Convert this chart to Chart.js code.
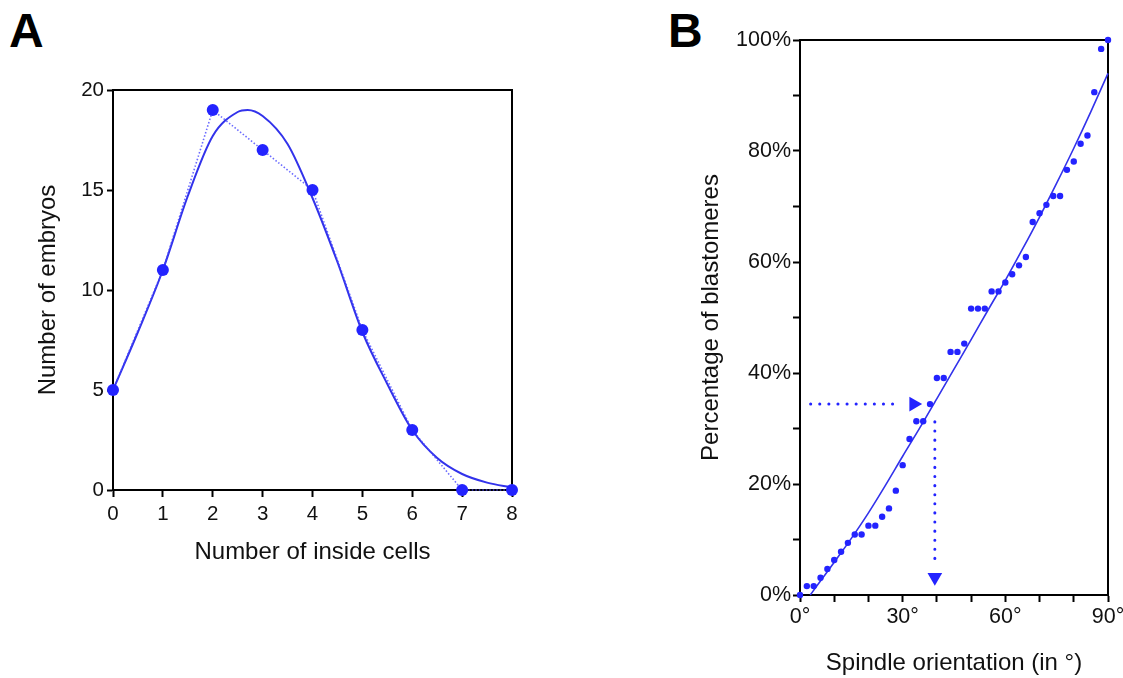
<!DOCTYPE html>
<html>
<head>
<meta charset="utf-8">
<script src="https://cdn.jsdelivr.net/npm/chart.js@4.4.1/dist/chart.umd.min.js"></script>
<style>
  body { margin: 0; background: #fff; width: 1123px; height: 678px; overflow: hidden; position: relative; font-family: 'Liberation Sans', Arial, sans-serif; }
  canvas { position: absolute; }
  .panel { position: absolute; font-weight: bold; font-size: 48px; line-height: 48px; color: #000; }
</style>
</head>
<body>
<div class="panel" style="left:9px; top:7px;">A</div>
<div class="panel" style="left:668px; top:7px;">B</div>
<canvas id="chartA" width="560" height="600" style="left:0; top:0;"></canvas>
<canvas id="chartB" width="460" height="678" style="left:680px; top:0;"></canvas>
<script>
// panel A: inside cells per embryo
var cellCounts = [0, 1, 2, 3, 4, 5, 6, 7, 8];
var embryoCounts = [5, 11, 19, 17, 15, 8, 3, 0, 0];
// fitted curve
var fitAx = [0, 0.5, 1, 1.5, 2, 2.5, 2.7, 3, 3.5, 4, 4.5, 5, 5.5, 6, 6.5, 7, 7.5, 8];
var fitAy = [5.0, 7.9, 11.0, 14.7, 17.7, 18.9, 19.0, 18.7, 17.3, 14.6, 11.4, 7.9, 5.3, 3.0, 1.6, 0.8, 0.37, 0.13];

// panel B: cumulative spindle orientation
var spindleAngles = [0, 2, 4, 6, 8, 10, 12, 14, 16, 18, 20, 22, 24, 26, 28, 30, 32, 34, 36, 38, 40, 42, 44,
    46, 48, 50, 52, 54, 56, 58, 60, 62, 64, 66, 68, 70, 72, 74, 76, 78, 80, 82, 84, 86, 88, 90];
var blastomerePct = [0, 1.6, 1.6, 3.1, 4.7, 6.3, 7.8, 9.4, 10.9, 10.9, 12.5, 12.5, 14.1, 15.6, 18.8, 23.4, 28.1,
    31.3, 31.3, 34.4, 39.1, 39.1, 43.8, 43.8, 45.3, 51.6, 51.6, 51.6, 54.7, 54.7, 56.3, 57.8, 59.4, 60.9,
    67.2, 68.8, 70.3, 71.9, 71.9, 76.6, 78.1, 81.3, 82.8, 90.6, 98.4, 100];
var fitBx = [3, 5, 10, 15, 20, 25, 30, 35, 40, 45, 50, 55, 60, 65, 70, 75, 80, 85, 90];
var fitBy = [0, 1.7, 5.9, 10.2, 14.8, 19.8, 25.0, 30.1, 35.4, 40.7, 46.0, 51.4, 56.7, 62.3, 68.1, 74.2, 80.5, 87.1, 94.0];
// dotted arrows (median)
var arrowHx = [3.1, 29.6];
var arrowHy = [34.4, 34.4];
var arrowVx = [39.4, 39.4];
var arrowVy = [31.2, 5.1];
var arrowHeadH = [33.2, 34.4];
var arrowHeadV = [39.4, 3.2];

var blue = 'rgb(35,35,255)';
var lineBlue = 'rgb(50,50,235)';
var textColor = '#111';

Chart.defaults.font.family = "'Liberation Sans', Arial, sans-serif";
Chart.defaults.color = textColor;

function toPoints(xs, ys) {
    return xs.map(function (x, i) { return { x: x, y: ys[i] }; });
}

function frameAxis(pos) {
    return {
        type: 'linear', position: pos, min: 0, max: 1,
        ticks: { display: false },
        grid: { drawOnChartArea: false, drawTicks: false },
        border: { display: true, color: '#000', width: 2 },
        afterFit: function (s) {
            if (pos === 'top') s.height = 0; else s.width = 0;
        }
    };
}

function tickGrid(len) {
    return { drawOnChartArea: false, tickLength: len, tickWidth: 2, tickColor: '#000' };
}

var commonOpts = {
    responsive: false,
    animation: false,
    events: [],
    plugins: { legend: { display: false }, tooltip: { enabled: false } }
};

// chart A
new Chart(document.getElementById('chartA').getContext('2d'), {
    type: 'scatter',
    data: {
        datasets: [{
            data: toPoints(cellCounts, embryoCounts),
            showLine: true,
            borderColor: 'rgba(70,70,255,0.8)',
            borderWidth: 1.6,
            borderDash: [1.5, 2],
            pointRadius: 6,
            pointBackgroundColor: blue,
            pointBorderWidth: 0,
            clip: false
        }, {
            data: toPoints(fitAx, fitAy),
            showLine: true,
            borderColor: lineBlue,
            borderWidth: 2,
            cubicInterpolationMode: 'monotone',
            pointRadius: 0,
            clip: false
        }]
    },
    options: Object.assign({}, commonOpts, {
        layout: { padding: { top: 90, right: 48, left: 0, bottom: 0 } },
        scales: {
            x: {
                type: 'linear', min: 0, max: 8,
                ticks: { stepSize: 1, autoSkip: false, maxRotation: 0, padding: 5, font: { size: 20.5 } },
                grid: tickGrid(7),
                border: { color: '#000', width: 2 },
                title: { display: true, text: 'Number of inside cells', font: { size: 24 }, padding: { top: 0, bottom: 33.6 } },
                afterFit: function (s) { s.height = 110; }
            },
            y: {
                type: 'linear', min: 0, max: 20,
                ticks: { stepSize: 5, padding: 3, font: { size: 20.5 } },
                grid: tickGrid(6),
                border: { color: '#000', width: 2 },
                title: { display: true, text: 'Number of embryos', font: { size: 24 }, padding: { top: 33.6, bottom: 0 } },
                afterFit: function (s) { s.width = 113; }
            },
            x2: frameAxis('top'),
            y2: frameAxis('right')
        }
    })
});

// chart B
new Chart(document.getElementById('chartB').getContext('2d'), {
    type: 'scatter',
    data: {
        datasets: [{
            data: toPoints(spindleAngles, blastomerePct),
            pointRadius: 3.2,
            pointBackgroundColor: blue,
            pointBorderWidth: 0,
            clip: false
        }, {
            data: toPoints(fitBx, fitBy),
            showLine: true,
            borderColor: lineBlue,
            borderWidth: 1.6,
            cubicInterpolationMode: 'monotone',
            pointRadius: 0,
            clip: false
        }, {
            data: toPoints(arrowHx, arrowHy),
            showLine: true,
            borderColor: blue,
            borderWidth: 3,
            borderDash: [0.1, 9],
            borderCapStyle: 'round',
            pointRadius: 0
        }, {
            data: toPoints(arrowVx, arrowVy),
            showLine: true,
            borderColor: blue,
            borderWidth: 3,
            borderDash: [0.1, 9],
            borderCapStyle: 'round',
            pointRadius: 0
        }, {
            data: [{ x: arrowHeadH[0], y: arrowHeadH[1] }],
            pointStyle: 'triangle',
            rotation: 90,
            pointRadius: 8.5,
            pointBackgroundColor: blue,
            pointBorderWidth: 0
        }, {
            data: [{ x: arrowHeadV[0], y: arrowHeadV[1] }],
            pointStyle: 'triangle',
            rotation: 180,
            pointRadius: 8.5,
            pointBackgroundColor: blue,
            pointBorderWidth: 0
        }]
    },
    options: Object.assign({}, commonOpts, {
        layout: { padding: { top: 40, right: 32, left: 0, bottom: 0 } },
        scales: {
            x: {
                type: 'linear', min: 0, max: 90,
                ticks: {
                    stepSize: 10, autoSkip: false, maxRotation: 0, padding: 2, font: { size: 21.5 },
                    callback: function (v) { return v % 30 === 0 ? v + '°' : ''; }
                },
                grid: tickGrid(7),
                border: { color: '#000', width: 2 },
                title: { display: true, text: 'Spindle orientation (in °)', font: { size: 24 }, padding: { top: 0, bottom: 0 } },
                afterFit: function (s) { s.height = 83; }
            },
            y: {
                type: 'linear', min: 0, max: 100,
                ticks: {
                    stepSize: 10, padding: 2, font: { size: 21.5 },
                    callback: function (v) { return v % 20 === 0 ? v + '%' : ''; }
                },
                grid: tickGrid(7),
                border: { color: '#000', width: 2 },
                title: { display: true, text: 'Percentage of blastomeres', font: { size: 24 }, padding: { top: 16.6, bottom: 0 } },
                afterFit: function (s) { s.width = 120; }
            },
            x2: frameAxis('top'),
            y2: frameAxis('right')
        }
    })
});
</script>
</body>
</html>
